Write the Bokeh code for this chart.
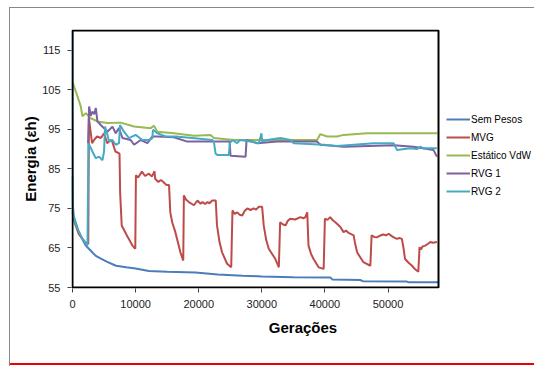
from bokeh.plotting import figure
from bokeh.models import Range1d, FixedTicker, Legend, LegendItem, BoxAnnotation
from bokeh.embed import file_html
from bokeh.resources import INLINE

# ---- data ----
x_sem = [0, 50, 200, 500, 900, 1300, 1800, 2100, 2600, 3200, 3700, 4500, 5500, 6900, 8500,
         10000, 12100, 15000, 19500, 23000, 27000, 30000, 35000, 40900, 41200, 45600, 46000,
         53000, 53300, 58000]
y_sem = [83, 76, 73, 71.5, 69.5, 68, 66.5, 65.6, 64.8, 63.8, 63, 62.3, 61.5, 60.5, 60.1,
         59.8, 59.2, 59.0, 58.8, 58.3, 58.0, 57.8, 57.6, 57.5, 57.0, 56.9, 56.6,
         56.5, 56.3, 56.3]

x_mvg = [0, 300, 1000, 2000, 2500,
         2600, 3100, 3500, 3900, 4500, 5000, 5500, 6000, 6300, 6800, 7300, 7450,
         7550, 7700, 7800, 8600, 9500, 9950,
         10050, 10400, 11000, 11500, 12100, 12600, 13000, 13100, 13600, 14000, 14400, 14900, 15300,
         15500, 15800, 16300, 17100, 17550,
         17650, 18000, 18450, 19240, 19800, 20300, 20600, 21000, 21400, 21700, 22150, 22700,
         22900, 23300, 23700, 24500, 25150,
         25350, 25700, 26100, 26500, 26900, 27300, 27700, 28200, 28700, 29100, 29500, 30050,
         30300, 30700, 31100, 32150, 32700,
         32900, 33300, 33750, 34100, 34500, 35300, 36100, 36600, 36900, 37200,
         37400, 37800, 38200, 39000, 39800,
         40000, 40400, 40850, 41250, 41650, 42000, 42450, 42950, 43350, 43750, 44150, 44550,
         44800, 45100, 46100, 47200,
         47400, 47800, 48250, 48700, 49200, 49700, 50100, 50600, 51000, 51400, 51800, 52200,
         52450, 52700, 53300, 53800, 54300, 54800,
         55000, 55200, 55500, 55900, 56300, 56700, 57100, 57750]
y_mvg = [74, 71.5, 68.5, 66.5, 66,
         97.8, 91.5, 92.5, 93.2, 92.8, 94, 91.5, 92.3, 91.9, 89.4, 89, 88.8,
         79, 74, 70.7, 68.2, 65.6, 64.8,
         83.4, 82.8, 84.3, 83.2, 83.8, 83.1, 84.4, 82.5, 81.7, 82.2, 81.7, 80.9, 80.9,
         74, 71.5, 69, 63.9, 61.8,
         78.3, 77.2, 76.6, 75.8, 77, 76.2, 76.6, 76.1, 76.6, 76.3, 77, 77,
         70.7, 66.5, 63.9, 61, 60.1,
         74.5, 73.6, 74, 73.4, 73.2, 74.4, 75, 74.6, 75, 74.7, 75.4, 75.4,
         70.7, 67, 64.8, 62.2, 60.1,
         71.5, 71, 70.7, 71.8, 72.4, 72.2, 72.8, 72.5, 72.8, 74,
         65.6, 63.5, 62.2, 60.1, 59.7,
         72.4, 72.1, 72.8, 72.0, 71.5, 71.0, 70.3, 69, 69.4, 68.8, 68.5, 68.2,
         66, 63.9, 61.4, 60.5,
         68.2, 67.8, 67.7, 68.1, 68.4, 68.2, 68.6, 68.0, 67.6, 67.3, 67.5, 67.3,
         65, 62.2, 61.2, 60.5, 59.6, 59,
         65.2, 64.6, 65.4, 65.6, 66.0, 66.5, 66.3, 66.5]

x_vdw = [0, 790, 1310, 1580, 2100, 2900, 3950, 5540, 7640, 9750, 12400, 12900, 13450,
         16070, 19240, 21880, 22400, 25570, 38760, 39280, 40340, 41920, 42970, 46670, 57800]
y_vdw = [107, 103.3, 100.8, 98.3, 99.1, 97.8, 97, 96.6, 96.7, 95.7, 95.3, 95.9, 94.4,
         94, 93.4, 93.6, 92.8, 92.3, 92.3, 93.8, 93.2, 93.2, 93.6, 94, 94]

x_rvg1 = [2470, 2630, 2900, 3160, 3450, 3690, 3950, 4480, 5000, 5540, 6330, 6850, 7370,
          7910, 9220, 9750, 10800, 11870, 12660, 13450, 16070, 18190, 24900, 25040, 27430,
          27580, 29270, 32430, 38760, 39280, 42970, 50880, 54040, 57200, 57740]
y_rvg1 = [91.5, 100.8, 98.5, 99.5, 98.8, 100.4, 97, 96.1, 95.3, 94.4, 95.7, 94, 95.3,
          92.8, 92.3, 91.1, 92.3, 91.5, 93.2, 93.2, 93, 91.9, 91.9, 88.3, 88.1,
          92.3, 91.5, 91.9, 91.9, 91.1, 90.6, 91, 90.6, 89.8, 88.1]

x_rvg2 = [0, 30, 520, 1580, 2370, 2530, 3160, 3690, 4210, 4750, 5000, 5160, 5540, 5790,
          6330, 6850, 7370, 7530, 8160, 8950, 10010, 11070, 12120, 12660, 12750, 13450,
          14760, 16340, 18980, 22150, 22400, 22670, 22940, 24770, 24930, 25310, 26100,
          26510, 28210, 29520, 29950, 30060, 30850, 32950, 34530, 35060, 39800, 41920,
          47710, 50880, 51420, 53520, 54580, 55100, 55620, 57740]
y_rvg2 = [120, 74, 70.7, 67.3, 65.6, 91.5, 89.4, 87.7, 88.1, 87.2, 89.4, 95.7, 93.6, 91.9,
          92.3, 91.1, 91.5, 96.1, 94.4, 92.8, 93.6, 92.3, 92.3, 92.8, 94.9, 94,
          93.2, 93.2, 92.8, 92.3, 91.9, 88.9, 88.5, 88.5, 91.5, 92.3, 91.5,
          92.3, 91.9, 91.5, 94, 91.9, 92.3, 92.8, 92.3, 91.5, 91.1, 90.8,
          91.5, 91.5, 89.8, 90.2, 90, 90.6, 90.2, 90.2]

series_names = ["Sem Pesos", "MVG", "Estático VdW", "RVG 1", "RVG 2"]
series_colors = ["#4a7ebb", "#be4b48", "#98b954", "#7d60a0", "#46aac5"]

x_ticks = [0, 10000, 20000, 30000, 40000, 50000]
x_tick_labels = ["0", "10000", "20000", "30000", "40000", "50000"]
y_ticks = [55, 65, 75, 85, 95, 105, 115]
y_tick_labels = ["55", "65", "75", "85", "95", "105", "115"]

X_MIN, X_MAX = 0, 58000
Y_MIN, Y_MAX = 55, 120

FONT = "Liberation Sans"

# layout (pixels)
W, H = 534, 366
F_LEFT, F_TOP, F_BOTTOM = 71, 29, 288           # frame edges (1px beyond the drawn box)
BOX_W, BOX_H = 366, 257                          # drawn plot box size
frame_w = W - F_LEFT
frame_h = F_BOTTOM - F_TOP
ux = (X_MAX - X_MIN) / BOX_W
uy = (Y_MAX - Y_MIN) / BOX_H
x0 = X_MIN - ux
y0 = Y_MIN - uy

p = figure(width=W, height=H, output_backend="svg", toolbar_location=None,
           x_range=Range1d(x0, x0 + frame_w * ux), y_range=Range1d(y0, y0 + frame_h * uy),
           min_border_left=F_LEFT, min_border_right=0, min_border_top=F_TOP,
           min_border_bottom=H - F_BOTTOM)
p.background_fill_color = "white"
p.border_fill_alpha = 0
p.xgrid.visible = False
p.ygrid.visible = False
p.outline_line_color = None

for ax, ticks, labels in ((p.xaxis[0], x_ticks, x_tick_labels), (p.yaxis[0], y_ticks, y_tick_labels)):
    ax.ticker = FixedTicker(ticks=ticks)
    ax.major_label_overrides = {t: l for t, l in zip(ticks, labels)}
    ax.minor_tick_line_color = None
    ax.major_tick_in = 0
    ax.major_tick_out = 4
    ax.major_tick_line_color = "#444"
    ax.axis_line_color = None
    ax.major_label_text_font = FONT
    ax.major_label_text_font_size = "11px"
    ax.major_label_text_color = "#222"
    ax.major_label_standoff = 7
    ax.axis_label_text_font = FONT
    ax.axis_label_text_font_style = "bold"
    ax.axis_label_text_font_size = "15px"
    ax.axis_label_text_color = "black"

p.xaxis.axis_label = "Gerações"
p.xaxis.axis_label_standoff = 8
p.yaxis.axis_label = "Energia (εh)"
p.yaxis.axis_label_standoff = 0

xs = [x_sem, x_mvg, x_vdw, x_rvg1, x_rvg2]
ys = [y_sem, y_mvg, y_vdw, y_rvg1, y_rvg2]
items = []
for name, color, xv, yv in zip(series_names, series_colors, xs, ys):
    r = p.line(xv, yv, line_color=color, line_width=2)
    items.append(LegendItem(label=name, renderers=[r]))

# the black plot box
p.add_layout(BoxAnnotation(left=X_MIN, right=X_MAX, bottom=Y_MIN, top=Y_MAX,
                           fill_color=None, line_color="black", line_width=2, line_alpha=1))

legend = Legend(items=items, location=(375, 88), orientation="vertical",
                label_text_font=FONT, label_text_font_size="10px", label_text_color="black",
                glyph_width=24, glyph_height=10, label_height=18, label_standoff=1,
                spacing=0, padding=0, margin=0,
                border_line_color=None, background_fill_alpha=0)
p.add_layout(legend, "center")

p.styles = {"box-shadow": ("inset 9px 7px 0 0 #fff, inset 10px 8px 0 0 #888, "
                           "inset 0 -1px 0 0 #fff, inset 0 -3px 0 0 #e00")}

open("out.html", "w").write(file_html(p, INLINE))
